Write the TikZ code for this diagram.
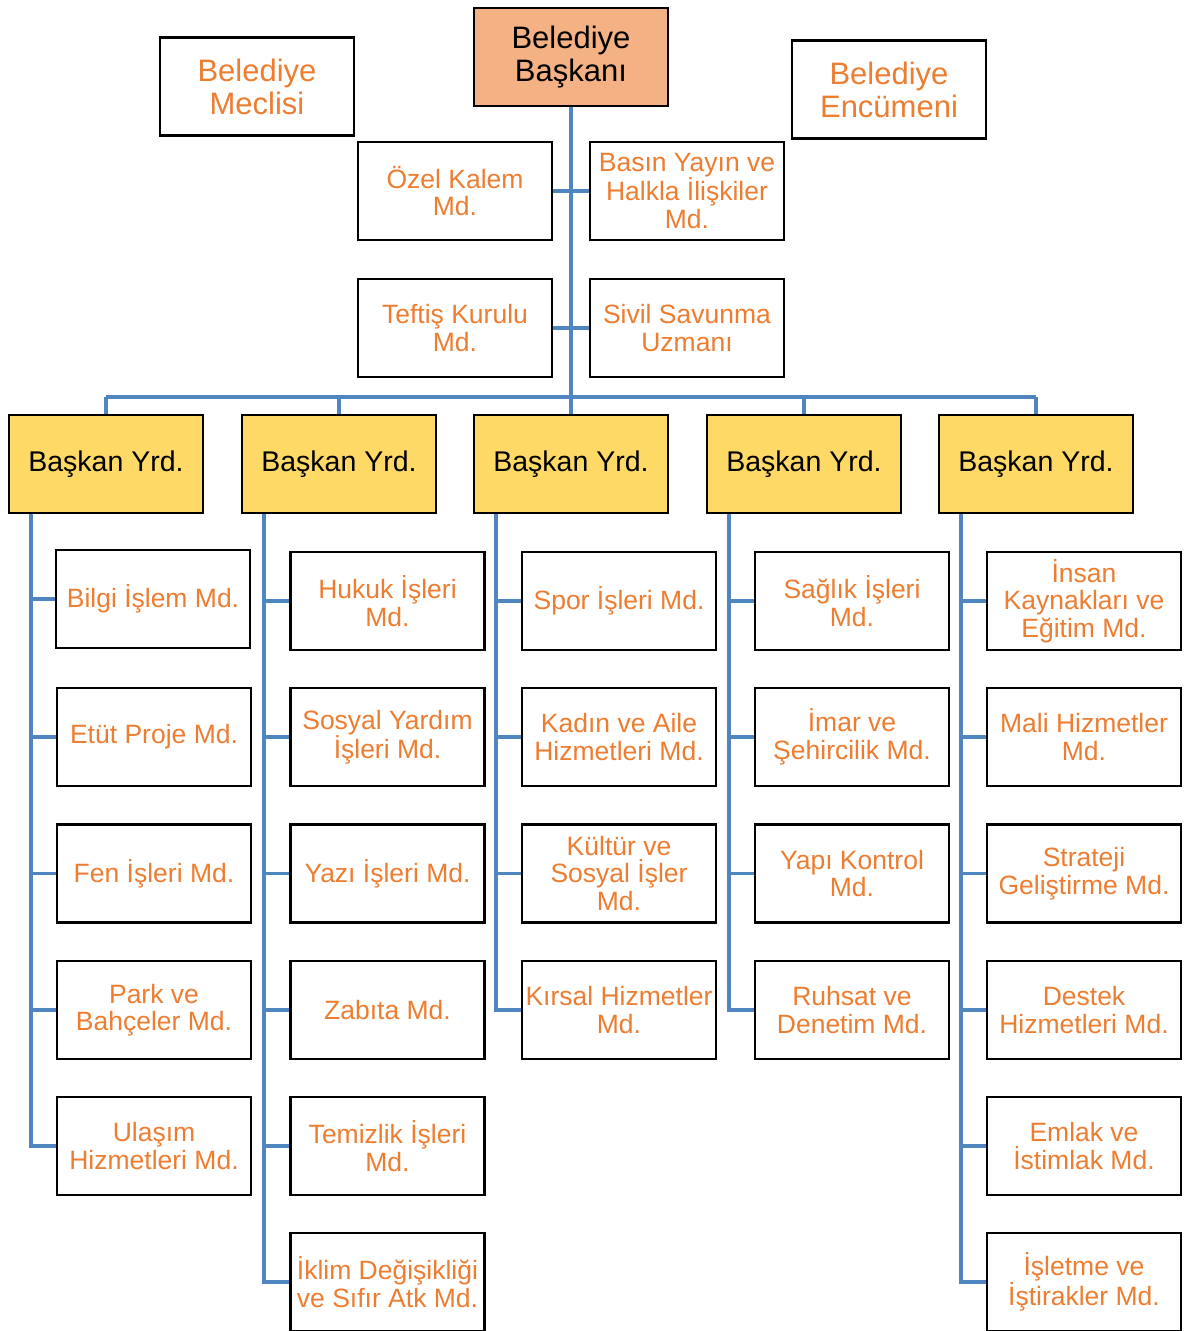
\documentclass[tikz,border=0pt]{standalone}
\usepackage{fontspec}
\setmainfont{Liberation Sans}
\usetikzlibrary{backgrounds}
\definecolor{unitorange}{HTML}{ED7D31}
\definecolor{bossfill}{HTML}{F4B183}
\definecolor{yrdfill}{HTML}{FFD966}
\definecolor{linkblue}{HTML}{4F86C0}

\begin{document}
\begin{tikzpicture}[x=1pt,y=1pt,
	box/.style={draw=black, line width=2.8pt, minimum width=194pt, minimum height=98pt, inner sep=0pt, align=center},
	unit/.style={box, fill=white, text=unitorange, font=\fontsize{26.5}{27.5}\selectfont},
	council/.style={box, fill=white, text=unitorange, font=\fontsize{31}{33}\selectfont},
	boss/.style={box, fill=bossfill, font=\fontsize{31}{33}\selectfont},
	yrd/.style={box, fill=yrdfill, font=\fontsize{28.5}{30}\selectfont},
	link/.style={draw=linkblue, line width=3.2pt}]
	\useasboundingbox (0,0) rectangle (1191,-1331);
	% top level
	\node[boss] (baskan) at (571,-57) {Belediye\\Başkanı};
	\node[council] (meclis) at (257,-86.5) {Belediye\\Meclisi};
	\node[council] (encumen) at (889,-89.5) {Belediye\\Encümeni};
	\node[unit] (ozel) at (455,-191) {Özel Kalem\\Md.};
	\node[unit] (basin) at (687,-191) {Basın Yayın ve\\Halkla İlişkiler\\Md.};
	\node[unit] (teftis) at (455,-328) {Teftiş Kurulu\\Md.};
	\node[unit] (sivil) at (687,-328) {Sivil Savunma\\Uzmanı};
	% deputies
	\node[yrd] (y1) at (106,-464) {Başkan Yrd.};
	\node[yrd] (y2) at (339,-464) {Başkan Yrd.};
	\node[yrd] (y3) at (571,-464) {Başkan Yrd.};
	\node[yrd] (y4) at (804,-464) {Başkan Yrd.};
	\node[yrd] (y5) at (1036,-464) {Başkan Yrd.};
	% column 1
	\node[unit] (u11) at (153,-599) {Bilgi İşlem Md.};
	\node[unit] (u12) at (154,-737) {Etüt Proje Md.};
	\node[unit] (u13) at (154,-873.5) {Fen İşleri Md.};
	\node[unit] (u14) at (154,-1010) {Park ve\\Bahçeler Md.};
	\node[unit] (u15) at (154,-1146) {Ulaşım\\Hizmetleri Md.};
	% column 2
	\node[unit] (u21) at (387.5,-601) {Hukuk İşleri\\Md.};
	\node[unit] (u22) at (387.5,-737) {Sosyal Yardım\\İşleri Md.};
	\node[unit] (u23) at (387.5,-873.5) {Yazı İşleri Md.};
	\node[unit] (u24) at (387.5,-1010) {Zabıta Md.};
	\node[unit] (u25) at (387.5,-1146) {Temizlik İşleri\\Md.};
	\node[unit] (u26) at (387.5,-1282) {İklim Değişikliği\\ve Sıfır Atk Md.};
	% column 3
	\node[unit] (u31) at (619,-601) {Spor İşleri Md.};
	\node[unit] (u32) at (619,-737) {Kadın ve Aile\\Hizmetleri Md.};
	\node[unit] (u33) at (619,-873.5) {Kültür ve\\Sosyal İşler\\Md.};
	\node[unit] (u34) at (619,-1010) {Kırsal Hizmetler\\Md.};
	% column 4
	\node[unit] (u41) at (852,-601) {Sağlık İşleri\\Md.};
	\node[unit] (u42) at (852,-737) {İmar ve\\Şehircilik Md.};
	\node[unit] (u43) at (852,-873.5) {Yapı Kontrol\\Md.};
	\node[unit] (u44) at (852,-1010) {Ruhsat ve\\Denetim Md.};
	% column 5
	\node[unit] (u51) at (1084,-601) {İnsan\\Kaynakları ve\\Eğitim Md.};
	\node[unit] (u52) at (1084,-737) {Mali Hizmetler\\Md.};
	\node[unit] (u53) at (1084,-873.5) {Strateji\\Geliştirme Md.};
	\node[unit] (u54) at (1084,-1010) {Destek\\Hizmetleri Md.};
	\node[unit] (u55) at (1084,-1146) {Emlak ve\\İstimlak Md.};
	\node[unit] (u56) at (1084,-1282) {İşletme ve\\İştirakler Md.};
	% connectors
	\begin{pgfonlayer}{background}
		\coordinate (bus) at (0,-397);
		\draw[link] (baskan.south) -- (y3.north);
		\draw[link] (ozel.east) -- (basin.west);
		\draw[link] (teftis.east) -- (sivil.west);
		\draw[link] (y1.north |- bus) -- (y5.north |- bus);
		\foreach \c in {1,...,5}
			\draw[link] (y\c.north) -- (y\c.north |- bus);
		\foreach \c/\n in {1/5,2/6,3/4,4/4,5/6} {
			\coordinate (s\c) at ([xshift=-75pt]y\c.south);
			\draw[link] (s\c) |- (u\c\n.west);
			\foreach \r in {1,...,\n}
				\draw[link] (s\c |- u\c\r.west) -- (u\c\r.west);
		}
	\end{pgfonlayer}
\end{tikzpicture}
\end{document}
